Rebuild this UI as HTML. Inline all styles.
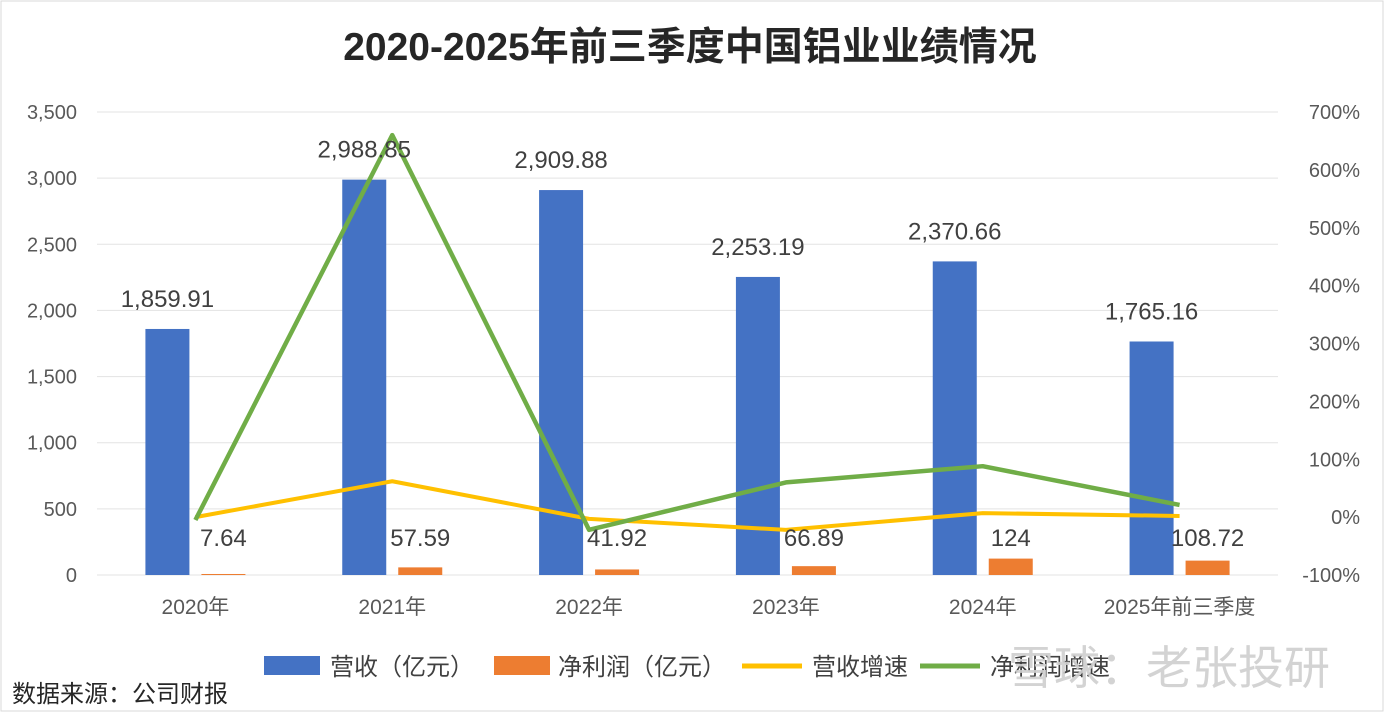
<!DOCTYPE html>
<html><head><meta charset="utf-8"><style>
body{margin:0;background:#fff;}
svg{display:block;font-family:"Liberation Sans","Noto Sans CJK SC",sans-serif;}
</style></head><body>
<svg id="chart" width="1384" height="712" viewBox="0 0 1384 712">
<rect x="1" y="1" width="1382" height="710" fill="#fff" stroke="#d9d9d9"/>
<text x="690" y="60" text-anchor="middle" font-size="39" font-weight="bold" fill="#262626">2020-2025年前三季度中国铝业业绩情况</text>
<g id="grid"></g><g id="bars"></g><g id="lines"></g><g id="labels"></g><g id="axes"></g>
<g font-size="24" fill="#404040">
<rect x="264" y="656" width="56" height="19" fill="#4472C4"/>
<text x="330" y="675">营收（亿元）</text>
<rect x="494" y="656" width="56" height="19" fill="#ED7D31"/>
<text x="558" y="675">净利润（亿元）</text>
<line x1="742" y1="666" x2="802" y2="666" stroke="#FFC000" stroke-width="5"/>
<text x="812" y="675">营收增速</text>
<line x1="920" y1="666" x2="980" y2="666" stroke="#70AD47" stroke-width="5"/>
<text x="990" y="675">净利润增速</text>
</g>
<text x="1008" y="684" font-size="46" fill="#cfcfcf" opacity="0.9">雪球：老张投研</text>
<text x="12" y="702" font-size="24" fill="#262626">数据来源：公司财报</text>
</svg>
<script>
const categories=["2020年","2021年","2022年","2023年","2024年","2025年前三季度"];
const revenue=[1859.91,2988.85,2909.88,2253.19,2370.66,1765.16];
const profit=[7.64,57.59,41.92,66.89,124,108.72];
const revenueGrowth=[0,62,-3,-22,7,2];
const profitGrowth=[-5,660,-22,60,88,21];
const leftTicks=[0,500,1000,1500,2000,2500,3000,3500];
const rightTicks=[-100,0,100,200,300,400,500,600,700];
const NS="http://www.w3.org/2000/svg";
const X0=97,X1=1278,Y0=575,Y1=112;
const bw=(X1-X0)/categories.length;
const xc=i=>X0+bw*(i+0.5);
const yL=v=>Y0-(v/3500)*(Y0-Y1);
const yR=v=>Y0-((v+100)/800)*(Y0-Y1);
function mk(tag,attrs,parent,txt){const e=document.createElementNS(NS,tag);for(const k in attrs)e.setAttribute(k,attrs[k]);if(txt!==undefined)e.textContent=txt;document.getElementById(parent).appendChild(e);return e;}
const fmt=v=>v>=1000?v.toLocaleString('en-US',{minimumFractionDigits:2}):String(v);
leftTicks.forEach(t=>{
 const g=mk('line',{x1:X0,x2:X1,y1:yL(t),y2:yL(t),stroke:'#e3e3e3','stroke-width':1},'grid');
 
 
 const l=mk('text',{x:77,y:yL(t)+7,'text-anchor':'end','font-size':20,fill:'#595959'},'axes',t.toLocaleString('en-US'));
 
 
});
rightTicks.forEach(t=>{
 const l=mk('text',{x:1360,y:yR(t)+7,'text-anchor':'end','font-size':20,fill:'#595959'},'axes',t+'%');
 
 
});
categories.forEach((c,i)=>{
 const l=mk('text',{x:xc(i),y:614,'text-anchor':'middle','font-size':21,fill:'#595959'},'axes',c);
 
 
 const b=mk('rect',{x:xc(i)-28-22,y:yL(revenue[i]),width:44,height:Y0-yL(revenue[i]),fill:'#4472C4'},'bars');
 
 
 const o=mk('rect',{x:xc(i)+28-22,y:yL(profit[i]),width:44,height:Y0-yL(profit[i]),fill:'#ED7D31'},'bars');
 
 
 const t1=mk('text',{x:xc(i)-28,y:yL(revenue[i])-22,'text-anchor':'middle','font-size':24,fill:'#404040'},'labels',fmt(revenue[i]));
 
 
 const t2=mk('text',{x:xc(i)+28,y:546,'text-anchor':'middle','font-size':24,fill:'#404040'},'labels',fmt(profit[i]));
 
 
});
const p1=mk('polyline',{points:revenueGrowth.map((v,i)=>xc(i)+','+yR(v)).join(' '),fill:'none',stroke:'#FFC000','stroke-width':4,'stroke-linejoin':'round'},'lines');


const p2=mk('polyline',{points:profitGrowth.map((v,i)=>xc(i)+','+yR(v)).join(' '),fill:'none',stroke:'#70AD47','stroke-width':4.5,'stroke-linejoin':'round'},'lines');


</script>
</body></html>
